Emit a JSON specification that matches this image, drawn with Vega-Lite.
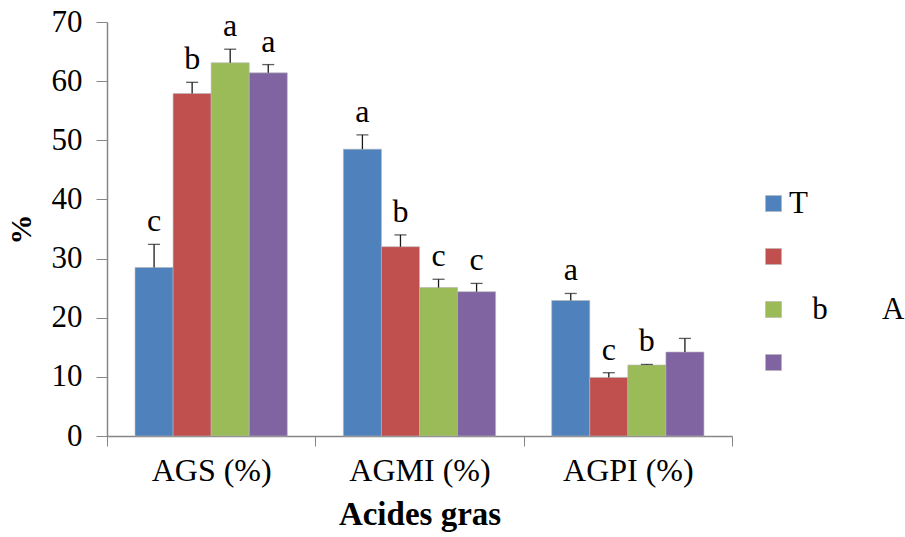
{
  "$schema": "https://vega.github.io/schema/vega-lite/v6.json",
  "width": 625,
  "height": 414,
  "autosize": {"type": "none"},
  "padding": {"left": 107, "top": 22, "right": 173, "bottom": 101},
  "background": "white",
  "config": {
    "view": {"stroke": null},
    "font": "'Liberation Serif', 'Times New Roman', serif"
  },
  "data": {
    "values": [
      {"group": "AGS (%)", "treatment": "T", "value": 28.5, "upper": 32.4, "letter": "c"},
      {"group": "AGS (%)", "treatment": "T2", "value": 57.9, "upper": 59.8, "letter": "b"},
      {"group": "AGS (%)", "treatment": "T3", "value": 63.1, "upper": 65.4, "letter": "a"},
      {"group": "AGS (%)", "treatment": "T4", "value": 61.4, "upper": 62.8, "letter": "a"},
      {"group": "AGMI (%)", "treatment": "T", "value": 48.5, "upper": 50.9, "letter": "a"},
      {"group": "AGMI (%)", "treatment": "T2", "value": 32.0, "upper": 34.0, "letter": "b"},
      {"group": "AGMI (%)", "treatment": "T3", "value": 25.1, "upper": 26.5, "letter": "c"},
      {"group": "AGMI (%)", "treatment": "T4", "value": 24.4, "upper": 25.8, "letter": "c"},
      {"group": "AGPI (%)", "treatment": "T", "value": 22.9, "upper": 24.1, "letter": "a"},
      {"group": "AGPI (%)", "treatment": "T2", "value": 9.9, "upper": 10.7, "letter": "c"},
      {"group": "AGPI (%)", "treatment": "T3", "value": 12.0, "upper": 12.1, "letter": "b"},
      {"group": "AGPI (%)", "treatment": "T4", "value": 14.2, "upper": 16.5, "letter": ""}
    ]
  },
  "encoding": {
    "x": {
      "field": "group",
      "type": "nominal",
      "sort": ["AGS (%)", "AGMI (%)", "AGPI (%)"],
      "scale": {"paddingInner": 0, "paddingOuter": 0},
      "axis": {
        "title": "Acides gras",
        "titleFont": "'Liberation Serif', 'Times New Roman', serif",
        "titleFontSize": 33,
        "titleFontWeight": "bold",
        "titleColor": "black",
        "titlePadding": 12,
        "labelFont": "'Liberation Serif', 'Times New Roman', serif",
        "labelFontSize": 32,
        "labelColor": "black",
        "labelAngle": 0,
        "labelPadding": 9,
        "tickBand": "extent",
        "tickSize": 10,
        "tickColor": "#868686",
        "domainColor": "#868686",
        "domainWidth": 1.5,
        "grid": false
      }
    },
    "xOffset": {
      "field": "treatment",
      "type": "nominal",
      "sort": ["T", "T2", "T3", "T4"],
      "scale": {"paddingInner": 0, "paddingOuter": 0.737}
    }
  },
  "layer": [
    {
      "mark": {"type": "bar", "stroke": "#b5b5b5", "strokeWidth": 0.6},
      "encoding": {
        "y": {
          "field": "value",
          "type": "quantitative",
          "scale": {"domain": [0, 70], "nice": false},
          "axis": {
            "title": "%",
            "titleFont": "'Liberation Serif', 'Times New Roman', serif",
            "titleFontSize": 30,
            "titleFontWeight": "bold",
            "titleColor": "black",
            "titlePadding": 15,
            "labelFont": "'Liberation Serif', 'Times New Roman', serif",
            "labelFontSize": 31,
            "labelColor": "black",
            "labelPadding": 14,
            "values": [0, 10, 20, 30, 40, 50, 60, 70],
            "tickSize": 11,
            "tickColor": "#868686",
            "domainColor": "#868686",
            "domainWidth": 1.5,
            "grid": false
          }
        },
        "color": {
          "field": "treatment",
          "type": "nominal",
          "sort": ["T", "T2", "T3", "T4"],
          "scale": {"domain": ["T", "T2", "T3", "T4"], "range": ["#4F81BD", "#C0504D", "#9BBB59", "#8064A2"]},
          "legend": {
            "title": null,
            "orient": "none",
            "legendX": 651,
            "legendY": 166,
            "symbolType": "square",
            "symbolSize": 256,
            "symbolStrokeWidth": 0.6,
            "symbolStrokeColor": "#b5b5b5",
            "labelFont": "'Liberation Serif', 'Times New Roman', serif",
            "labelFontSize": 31,
            "labelColor": "black",
            "labelOffset": 0,
            "rowPadding": 21,
            "labelExpr": "datum.label == 'T' ? 'T' : (datum.label == 'T3' ? '\u200b\u00a0\u00a0\u00a0b\u00a0\u00a0\u00a0\u00a0\u00a0\u00a0\u00a0A' : '')"
          }
        }
      }
    },
    {
      "mark": {"type": "rule", "color": "#1a1a1a", "strokeWidth": 1.3},
      "encoding": {
        "y": {"field": "value", "type": "quantitative"},
        "y2": {"field": "upper"}
      }
    },
    {
      "mark": {"type": "tick", "orient": "horizontal", "color": "#1a1a1a", "thickness": 1.3, "size": 12},
      "encoding": {
        "y": {"field": "upper", "type": "quantitative"}
      }
    },
    {
      "mark": {"type": "text", "font": "'Liberation Serif', 'Times New Roman', serif", "fontSize": 32, "color": "black", "baseline": "alphabetic", "dy": -13},
      "encoding": {
        "y": {"field": "upper", "type": "quantitative"},
        "text": {"field": "letter"}
      }
    }
  ]
}
